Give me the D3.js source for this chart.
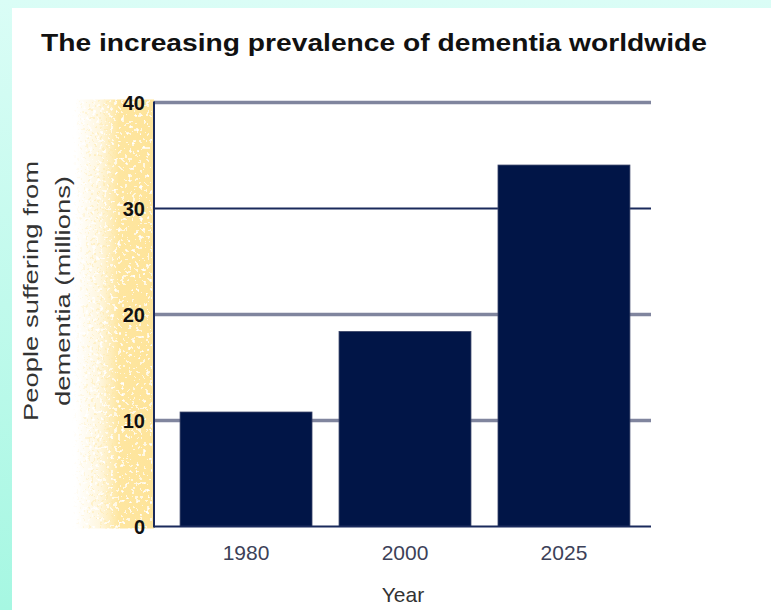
<!DOCTYPE html>
<html>
<head>
<meta charset="utf-8">
<script src="https://d3js.org/d3.v7.min.js"></script>
<style>
  html, body { margin: 0; padding: 0; background: #fff; }
  svg { display: block; font-family: "Liberation Sans", Arial, Helvetica, sans-serif; }
</style>
</head>
<body>
<div id="chart"></div>
<script>
// Data
const years = ["1980", "2000", "2025"];
const sufferers = [10.8, 18.4, 34.1]; // millions
const yTicks = [0, 10, 20, 30, 40];

const width = 771, height = 610;

const svg = d3.select("#chart").append("svg")
    .attr("width", width)
    .attr("height", height);

const defs = svg.append("defs");

// cyan frame gradient
const bg = defs.append("linearGradient").attr("id", "bg")
    .attr("x1", 0).attr("y1", 0).attr("x2", 0).attr("y2", 1);
bg.append("stop").attr("offset", "0%").attr("stop-color", "#dafdf6");
bg.append("stop").attr("offset", "100%").attr("stop-color", "#a6f7e2");

// yellow band gradient (fades to the left)
const band = defs.append("linearGradient").attr("id", "band")
    .attr("x1", 0).attr("y1", 0).attr("x2", 1).attr("y2", 0);
band.append("stop").attr("offset", "0%").attr("stop-color", "#fee7a4").attr("stop-opacity", 0);
band.append("stop").attr("offset", "30%").attr("stop-color", "#fee7a4").attr("stop-opacity", 0.35);
band.append("stop").attr("offset", "55%").attr("stop-color", "#fee6a0").attr("stop-opacity", 1);
band.append("stop").attr("offset", "100%").attr("stop-color", "#fee49a").attr("stop-opacity", 1);

// fade mask for the loose yellow dots on the left
const fade = defs.append("linearGradient").attr("id", "fade")
    .attr("x1", 0).attr("y1", 0).attr("x2", 1).attr("y2", 0);
fade.append("stop").attr("offset", "0%").attr("stop-color", "#000");
fade.append("stop").attr("offset", "40%").attr("stop-color", "#fff");
fade.append("stop").attr("offset", "100%").attr("stop-color", "#fff");
defs.append("mask").attr("id", "fadeMask")
    .attr("maskContentUnits", "objectBoundingBox")
    .append("rect").attr("width", 1).attr("height", 1).attr("fill", "url(#fade)");

// white speckle texture
const speck = defs.append("filter").attr("id", "speck")
    .attr("x", 0).attr("y", 0).attr("width", 1).attr("height", 1);
speck.append("feTurbulence")
    .attr("type", "fractalNoise")
    .attr("baseFrequency", 0.28)
    .attr("numOctaves", 2)
    .attr("seed", 3)
    .attr("result", "noise");
speck.append("feColorMatrix")
    .attr("in", "noise")
    .attr("type", "matrix")
    .attr("values", "0 0 0 0 1  0 0 0 0 1  0 0 0 0 1  1 0 0 0 0");
speck.append("feComponentTransfer")
    .append("feFuncA").attr("type", "discrete").attr("tableValues", "0 0 0 0 0 0.7 1 1");

// yellow dot texture
const ydots = defs.append("filter").attr("id", "ydots")
    .attr("x", 0).attr("y", 0).attr("width", 1).attr("height", 1);
ydots.append("feTurbulence")
    .attr("type", "fractalNoise")
    .attr("baseFrequency", 0.35)
    .attr("numOctaves", 2)
    .attr("seed", 8);
ydots.append("feColorMatrix")
    .attr("type", "matrix")
    .attr("values", "0 0 0 0 0.996  0 0 0 0 0.89  0 0 0 0 0.62  0 1 0 0 0");
ydots.append("feComponentTransfer")
    .append("feFuncA").attr("type", "discrete").attr("tableValues", "0 0 0 0 0 0.8 1 1");

svg.append("rect")
    .attr("width", width).attr("height", height)
    .attr("fill", "url(#bg)");
svg.append("rect")
    .attr("x", 12).attr("y", 8)
    .attr("width", width - 12).attr("height", height - 8)
    .attr("fill", "#fff");

// scales
const x = d3.scaleBand()
    .domain(years)
    .range([154, 656])
    .paddingInner(0.17)
    .paddingOuter(0.164);

const y = d3.scaleLinear()
    .domain([0, 40])
    .range([526.5, 102.5]);

const axisLeft = 154, axisRight = 651;

// yellow band behind y labels
const bandTop = y(40) - 3, bandH = y(0) - y(40) + 5;
svg.append("rect")
    .attr("x", 72).attr("y", bandTop)
    .attr("width", 50).attr("height", bandH)
    .attr("filter", "url(#ydots)")
    .attr("mask", "url(#fadeMask)");
svg.append("rect")
    .attr("x", 76).attr("y", bandTop)
    .attr("width", axisLeft - 76).attr("height", bandH)
    .attr("fill", "url(#band)");
svg.append("rect")
    .attr("x", 76).attr("y", bandTop)
    .attr("width", axisLeft - 78).attr("height", bandH)
    .attr("filter", "url(#speck)");

// title
svg.append("text")
    .attr("x", 41)
    .attr("y", 51)
    .attr("textLength", 666)
    .attr("lengthAdjust", "spacingAndGlyphs")
    .style("font-size", "23px")
    .style("font-weight", "bold")
    .attr("fill", "#111")
    .text("The increasing prevalence of dementia worldwide");

// gridlines
svg.append("g")
    .selectAll("line")
    .data(yTicks.filter(d => d > 0))
    .join("line")
    .attr("x1", axisLeft).attr("x2", axisRight)
    .attr("y1", d => y(d)).attr("y2", d => y(d))
    .attr("stroke", d => d === 30 ? "#1a2a5c" : "#80859e")
    .attr("stroke-width", d => d === 30 ? 2 : 3.5);

// bars
svg.append("g")
    .selectAll("rect")
    .data(years.map((yr, i) => ({ yr, v: sufferers[i] })))
    .join("rect")
    .attr("x", d => x(d.yr))
    .attr("y", d => y(d.v))
    .attr("width", x.bandwidth())
    .attr("height", d => y(0) - y(d.v))
    .attr("fill", "#011547")
    .attr("stroke", "#3a4468")
    .attr("stroke-width", 0.8);

// axes lines
svg.append("line")
    .attr("x1", axisLeft).attr("x2", axisLeft)
    .attr("y1", y(40) - 1).attr("y2", y(0) + 1)
    .attr("stroke", "#1a2a5c").attr("stroke-width", 2);
svg.append("line")
    .attr("x1", axisLeft).attr("x2", axisRight)
    .attr("y1", y(0)).attr("y2", y(0))
    .attr("stroke", "#1a2a5c").attr("stroke-width", 2);

// y tick labels
svg.append("g")
    .selectAll("text")
    .data(yTicks)
    .join("text")
    .attr("x", 145)
    .attr("y", d => y(d) + 7.5)
    .attr("text-anchor", "end")
    .style("font-size", "20px")
    .style("font-weight", "bold")
    .attr("fill", "#111")
    .text(d => d);

// x tick labels
svg.append("g")
    .selectAll("text")
    .data(years)
    .join("text")
    .attr("x", d => x(d) + x.bandwidth() / 2)
    .attr("y", 560)
    .attr("text-anchor", "middle")
    .style("font-size", "21px")
    .attr("fill", "#3c4158")
    .text(d => d);

// x axis title
svg.append("text")
    .attr("x", 403)
    .attr("y", 602)
    .attr("text-anchor", "middle")
    .style("font-size", "21px")
    .attr("fill", "#333")
    .text("Year");

// y axis title (two lines)
const yLab = svg.append("text")
    .attr("transform", "translate(0,291) rotate(-90)")
    .attr("text-anchor", "middle")
    .style("font-size", "21px")
    .attr("fill", "#333");
yLab.append("tspan")
    .attr("x", 0).attr("y", 38)
    .attr("textLength", 260)
    .attr("lengthAdjust", "spacingAndGlyphs")
    .text("People suffering from");
yLab.append("tspan")
    .attr("x", 0).attr("y", 70)
    .attr("textLength", 230)
    .attr("lengthAdjust", "spacingAndGlyphs")
    .text("dementia (millions)");
</script>
</body>
</html>
